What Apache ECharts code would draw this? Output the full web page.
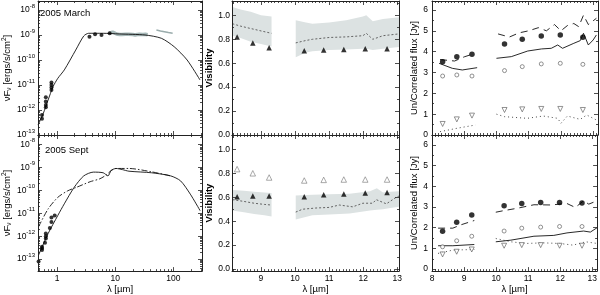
<!DOCTYPE html>
<html><head><meta charset="utf-8">
<script src="https://cdn.jsdelivr.net/npm/echarts@6/dist/echarts.min.js"></script>
<style>html,body{margin:0;padding:0;background:#fff}#c{width:600px;height:295px}</style>
</head><body><div id="c"></div>
<script>
// ---------------- DATA ----------------
// Panel 1: SED (wavelength in micron, nuFnu in erg/s/cm2)
const sedXLabels = [1, 10, 100];
const sedYLabels = [1e-13, 1e-12, 1e-11, 1e-10, 1e-9, 1e-8];
const marchModelX = [0.47, 0.58, 0.70, 0.85, 1.03, 1.33, 2.09, 2.87, 3.48, 6.2, 11.7, 32.5, 62, 103, 172, 286];
const marchModelY = [2.5e-13, 7.4e-13, 2.5e-12, 8.5e-12, 1.86e-11, 4.0e-11, 2.5e-10, 9.1e-10, 1.17e-9, 1.17e-9, 1.1e-9, 1.0e-9, 7.4e-10, 3.4e-10, 1.0e-10, 1.6e-11];
const marchPhotX = [0.55, 0.55, 0.64, 0.64, 0.64, 0.64, 0.80, 0.80, 0.80, 0.80, 3.6, 4.5, 5.8, 8.0];
const marchPhotY = [6.3e-13, 4.5e-13, 3.2e-12, 2.2e-12, 1.6e-12, 1.3e-12, 1.26e-11, 1.0e-11, 7.9e-12, 6.3e-12, 8.5e-10, 1.07e-9, 1.0e-9, 1.17e-9];
const marchSpecX = [8.0, 8.5, 9, 9.5, 10, 10.5, 11, 11.5, 12, 12.5, 13, 14, 15, 16, 17, 18, 20, 22, 24, 26, 28, 30, 33, 36];
const marchSpecY = [1.17e-9, 1.26e-9, 1.32e-9, 1.26e-9, 1.17e-9, 1.12e-9, 1.07e-9, 1.0e-9, 1.05e-9, 1.1e-9, 1.05e-9, 1.0e-9, 1.07e-9, 1.02e-9, 1.07e-9, 1.1e-9, 1.05e-9, 1.0e-9, 1.05e-9, 1.07e-9, 1.0e-9, 1.05e-9, 1.07e-9, 1.02e-9];
const marchFirX = [51, 60, 70, 82, 97];
const marchFirY = [1.58e-9, 1.45e-9, 1.35e-9, 1.25e-9, 1.17e-9];
const septModelX = [0.48, 0.70, 1.03, 1.33, 1.96, 2.87, 4.2, 6.2, 7.5, 8.5, 10.3, 13.3, 17.2, 42, 90, 133, 195, 288];
const septModelY = [1.5e-13, 1.3e-12, 8.1e-12, 2.6e-11, 1.35e-10, 4.3e-10, 6.3e-10, 5.9e-10, 4.3e-10, 7.4e-10, 9.1e-10, 8.1e-10, 6.9e-10, 5.9e-10, 4.3e-10, 2.6e-10, 6.9e-11, 1.3e-11];
const septAltX = [0.48, 0.70, 1.03, 1.51, 2.22, 3.7, 5.4, 7.0, 8.5, 10.3, 17.2, 42, 90];
const septAltY = [2.6e-12, 1.55e-11, 5.0e-11, 9.5e-11, 1.41e-10, 2.4e-10, 3.2e-10, 4.7e-10, 7.4e-10, 9.1e-10, 9.1e-10, 6.5e-10, 4.3e-10];
const septPhotX = [0.48, 0.55, 0.55, 0.55, 0.62, 0.64, 0.64, 0.64, 0.75, 0.80, 0.80, 0.91];
const septPhotY = [7.9e-14, 3.5e-13, 3.0e-13, 2.5e-13, 5.2e-13, 1.3e-12, 1.0e-12, 7.9e-13, 2.3e-12, 6.5e-12, 4.2e-12, 8.1e-12];

// Panel 2: Visibility
const visXLabels = [9, 10, 11, 12, 13];
const visYLabels = [0, 0.2, 0.4, 0.6, 0.8, 1.0];
const obsX = [8.30, 8.76, 9.24, 10.27, 10.84, 11.43, 12.06, 12.70];
const visTopObs = [0.82, 0.77, 0.73, 0.705, 0.71, 0.715, 0.72, 0.72];
const visBotObs = [0.605, 0.61, 0.61, 0.605, 0.62, 0.628, 0.635, 0.64];
const visBotOpen = [0.835, 0.80, 0.765, 0.74, 0.745, 0.748, 0.748, 0.748];
const visTopBand1X = [8.16, 8.4, 8.7, 9.0, 9.31];
const visTopBand1Hi = [1.07, 1.05, 1.03, 1.0, 0.99];
const visTopBand1Lo = [0.83, 0.81, 0.78, 0.76, 0.74];
const visTopMod1Y = [0.93, 0.91, 0.89, 0.87, 0.85];
const visTopBand2X = [10.02, 10.32, 10.51, 11.0, 11.5, 11.99, 12.09, 12.28, 12.58, 13.05];
const visTopBand2Hi = [0.96, 0.94, 0.93, 0.94, 0.96, 0.99, 1.0, 0.95, 0.97, 0.985];
const visTopBand2Lo = [0.65, 0.69, 0.70, 0.71, 0.715, 0.72, 0.72, 0.71, 0.72, 0.735];
const visTopMod2Y = [0.77, 0.79, 0.80, 0.815, 0.82, 0.83, 0.85, 0.80, 0.83, 0.845];
const visBotBand1X = [8.16, 8.5, 8.8, 9.1, 9.31];
const visBotBand1Hi = [0.66, 0.655, 0.645, 0.64, 0.635];
const visBotBand1Lo = [0.49, 0.475, 0.46, 0.45, 0.44];
const visBotMod1Y = [0.58, 0.565, 0.55, 0.54, 0.535];
const visBotBand2X = [10.02, 10.51, 11.0, 11.6, 12.2, 12.4, 12.58, 12.8, 13.05];
const visBotBand2Hi = [0.615, 0.62, 0.625, 0.63, 0.65, 0.675, 0.64, 0.645, 0.65];
const visBotBand2Lo = [0.415, 0.45, 0.455, 0.465, 0.49, 0.495, 0.5, 0.51, 0.52];
const visBotMod2X = [10.02, 10.22, 10.61, 11.0, 11.3, 11.69, 11.99, 12.28, 12.38, 12.68, 12.97, 13.05];
const visBotMod2Y = [0.476, 0.5, 0.51, 0.515, 0.535, 0.52, 0.55, 0.55, 0.58, 0.545, 0.60, 0.61];

// Panel 3: Un/Correlated flux (Jy)
const fluxXLabels = [8, 9, 10, 11, 12, 13];
const fluxYLabels = [0, 1, 2, 3, 4, 5, 6];
const fluxObsX = [8.33, 8.77, 9.24, 10.25, 10.80, 11.39, 11.98, 12.68];
const fluxTopTotal = [3.52, 3.76, 3.87, 4.37, 4.6, 4.75, 4.8, 4.69];
const fluxTopCorr = [2.83, 2.88, 2.83, 3.09, 3.28, 3.41, 3.44, 3.39];
const fluxTopUncorr = [0.53, 0.75, 0.93, 1.2, 1.23, 1.25, 1.25, 1.2];
const fluxTopDash1X = [8.25, 8.7, 9.0, 9.3];
const fluxTopDash1Y = [3.62, 3.55, 3.75, 3.9];
const fluxTopDash2X = [10.05, 10.4, 10.7, 11.0, 11.3, 11.55, 11.8, 12.0, 12.2, 12.4, 12.55, 12.7, 12.85, 13.1];
const fluxTopDash2Y = [4.85, 4.7, 4.9, 5.0, 5.15, 5.0, 5.3, 5.0, 5.25, 5.35, 5.2, 5.75, 5.3, 5.6];
const fluxTopSolid1X = [8.22, 8.63, 8.94, 9.4];
const fluxTopSolid1Y = [3.44, 3.2, 3.12, 3.23];
const fluxTopSolid2X = [10.0, 10.46, 10.97, 11.4, 11.7, 11.9, 12.05, 12.4, 12.6, 12.7, 12.85, 13.0, 13.1];
const fluxTopSolid2Y = [3.68, 3.76, 4.03, 4.13, 4.16, 4.32, 4.16, 4.4, 4.53, 4.88, 4.32, 4.56, 4.8];
const fluxTopDot1X = [8.25, 8.8, 9.35];
const fluxTopDot1Y = [0.16, 0.33, 0.48];
const fluxTopDot2X = [10.0, 10.25, 10.95, 11.45, 11.9, 12.0, 12.2, 12.6, 12.8, 13.1];
const fluxTopDot2Y = [1.0, 0.88, 0.8, 0.91, 0.8, 0.56, 0.91, 0.75, 0.96, 0.72];
const fluxBotTotal = [1.83, 2.27, 2.62, 3.06, 3.17, 3.22, 3.22, 3.19];
const fluxBotCorr = [1.08, 1.37, 1.59, 1.84, 1.98, 2.03, 2.06, 2.06];
const fluxBotUncorr = [0.71, 0.84, 0.95, 1.13, 1.16, 1.16, 1.13, 1.13];
const fluxBotDash1X = [8.19, 8.65, 8.9, 9.32];
const fluxBotDash1Y = [1.98, 1.98, 2.14, 2.35];
const fluxBotDash2X = [9.99, 10.25, 10.66, 11.18, 11.7, 12.21, 12.47, 12.73, 12.89, 13.15];
const fluxBotDash2Y = [2.75, 2.83, 2.94, 3.11, 3.1, 3.17, 2.98, 3.3, 3.14, 3.3];
const fluxBotSolid1X = [8.19, 8.65, 9.32];
const fluxBotSolid1Y = [1.13, 1.13, 1.19];
const fluxBotSolid2X = [9.99, 10.46, 11.18, 11.8, 12.21, 12.73, 12.94, 13.15];
const fluxBotSolid2Y = [1.32, 1.4, 1.59, 1.63, 1.75, 1.84, 1.79, 2.0];
const fluxBotDot1X = [8.19, 8.65, 9.32];
const fluxBotDot1Y = [0.76, 0.92, 0.95];
const fluxBotDot2X = [9.99, 10.46, 10.95, 11.45, 11.99, 12.4, 12.8, 13.15];
const fluxBotDot2Y = [1.48, 1.32, 1.24, 1.27, 1.24, 1.16, 1.32, 1.24];

// ---------------- HELPERS ----------------
const FONT = 'Liberation Sans';
const TXT = '#000';
const AXC = '#222';
const zip = (xs, ys) => xs.map((x, i) => [x, ys[i]]);
const rng = (a, b, s) => { const r = []; for (let v = a; v <= b + 1e-9; v += s) r.push(Math.round(v * 1000) / 1000); return r; };
const logMinor = [];
for (let d = -14; d <= 2; d++) for (let k = 2; k <= 9; k++) logMinor.push(+(k * Math.pow(10, d)).toPrecision(3));
const minorOf = (a, b, s, skip) => rng(a, b, s).filter(v => Math.abs(v / skip - Math.round(v / skip)) > 1e-6);

const grids = [
  {left: 33, top: 1, width: 169, height: 134},
  {left: 33, top: 135, width: 169, height: 138},
  {left: 232, top: 1, width: 167, height: 134},
  {left: 232, top: 135, width: 167, height: 138},
  {left: 432, top: 1, width: 166, height: 134},
  {left: 432, top: 135, width: 166, height: 138}
];

const supRich = {
  b: {fontSize: 8.5, fontFamily: FONT, color: TXT, lineHeight: 14, verticalAlign: 'middle'},
  s: {fontSize: 6, fontFamily: FONT, color: TXT, verticalAlign: 'top'}
};
const sedX = {type: 'log', min: 0.47, max: 310, major: sedXLabels, minor: logMinor, fmt: v => String(Math.round(v)), margin: 3};
const sedYTop = {type: 'log', min: 1e-13, max: 2.29e-8, major: sedYLabels, minor: logMinor, fmt: v => '{b|10}{s|' + Math.round(Math.log10(v)) + '}', rich: supRich, margin: 3};
const sedYBot = Object.assign({}, sedYTop, {min: 3.0e-14, max: 2.63e-8});
const visX = {type: 'value', min: 8.15, max: 13.05, major: visXLabels, minor: minorOf(8.2, 13.0, 0.1, 1), fmt: v => String(v), margin: 3};
const visYTop = {type: 'value', min: 0, max: 1.12, major: visYLabels, minor: minorOf(0.1, 1.1, 0.1, 0.2), fmt: v => v.toFixed(1), margin: 2};
const visYBot = Object.assign({}, visYTop, {min: -0.017, max: 1.12});
const flX = {type: 'value', min: 8, max: 13.15, major: fluxXLabels, minor: minorOf(8.1, 13.1, 0.1, 1), fmt: v => String(v), margin: 3};
const flYTop = {type: 'value', min: 0, max: 6.43, major: fluxYLabels, minor: minorOf(0.5, 6.0, 0.5, 1), fmt: v => String(v), margin: 4};
const flYBot = Object.assign({}, flYTop, {min: -0.095, max: 6.48});

const xAxes = [], yAxes = [];
function ax(grid, pos, cfg, major, labelOn, extra) {
  const a = {
    gridIndex: grid, type: cfg.type, position: pos, min: cfg.min, max: cfg.max,
    axisLine: {show: major, onZero: false, lineStyle: {color: AXC, width: 1}},
    splitLine: {show: false}, minorTick: {show: false},
    axisTick: {show: true, inside: true, length: major ? 4 : 2, customValues: major ? cfg.major : cfg.minor, lineStyle: {color: AXC, width: 0.8}},
    axisLabel: {show: labelOn, customValues: cfg.major, margin: cfg.margin, formatter: cfg.fmt, fontFamily: FONT, fontSize: 8.5, color: TXT, rich: cfg.rich || {}},
    z: 10
  };
  if (cfg.type === 'log') a.logBase = 10;
  return Object.assign(a, extra || {});
}
const nameStyle = {fontFamily: FONT, fontSize: 9.5, color: TXT};
const panels = [
  {x: sedX, y: sedYTop, xl: false, yName: 'νF{sub|ν} [ergs/s/cm{sup|2}]', yGap: 20},
  {x: sedX, y: sedYBot, xl: true, yName: 'νF{sub|ν} [ergs/s/cm{sup|2}]', yGap: 20},
  {x: visX, y: visYTop, xl: false, yName: 'Visibility', yGap: 14, bold: true},
  {x: visX, y: visYBot, xl: true, yName: 'Visibility', yGap: 14, bold: true},
  {x: flX, y: flYTop, xl: false, yName: 'Un/Correlated flux [Jy]', yGap: 13},
  {x: flX, y: flYBot, xl: true, yName: 'Un/Correlated flux [Jy]', yGap: 13}
];
const nameRich = {
  sub: {fontFamily: FONT, fontSize: 6.5, color: TXT, verticalAlign: 'bottom', lineHeight: 12},
  sup: {fontFamily: FONT, fontSize: 6.5, color: TXT, verticalAlign: 'top'}
};
panels.forEach((p, g) => {
  const xn = p.xl ? {name: 'λ [µm]', nameLocation: 'middle', nameGap: 11, nameTextStyle: nameStyle} : {};
  xAxes.push(ax(g, 'bottom', p.x, true, p.xl, xn));
  xAxes.push(ax(g, 'bottom', p.x, false, false));
  xAxes.push(ax(g, 'top', p.x, true, false));
  xAxes.push(ax(g, 'top', p.x, false, false));
  const yn = {name: p.yName, nameLocation: 'middle', nameGap: p.yGap,
    nameTextStyle: Object.assign({}, nameStyle, {fontWeight: p.bold ? 'bold' : 'normal', rich: nameRich})};
  yAxes.push(ax(g, 'left', p.y, true, true, yn));
  yAxes.push(ax(g, 'left', p.y, false, false));
  yAxes.push(ax(g, 'right', p.y, true, false));
  yAxes.push(ax(g, 'right', p.y, false, false));
});

const series = [];
function line(g, xs, ys, color, width, type, extra) {
  series.push(Object.assign({
    type: 'line', xAxisIndex: g * 4, yAxisIndex: g * 4, data: zip(xs, ys),
    showSymbol: false, symbol: 'none', silent: true, animation: false, z: 5,
    lineStyle: {color: color, width: width, type: type}
  }, extra || {}));
}
function pts(g, xs, ys, symbol, size, fill, border, extra) {
  series.push(Object.assign({
    type: 'scatter', xAxisIndex: g * 4, yAxisIndex: g * 4, data: zip(xs, ys),
    symbol: symbol, symbolSize: size, silent: true, animation: false, z: 8,
    itemStyle: {color: fill, borderColor: border, borderWidth: border ? 0.8 : 0}
  }, extra || {}));
}
function band(g, xs, lo, hi) {
  series.push({
    type: 'custom', xAxisIndex: g * 4, yAxisIndex: g * 4, data: [[xs[0], lo[0]]], silent: true, animation: false, z: 2,
    renderItem: (params, api) => {
      const poly = xs.map((x, i) => api.coord([x, hi[i]])).concat(xs.slice().reverse().map((x, i) => api.coord([x, lo[xs.length - 1 - i]])));
      return {type: 'polygon', shape: {points: poly}, style: {fill: '#dce2e2', stroke: null}};
    }
  });
}

// Panel 1 top
line(0, marchSpecX, marchSpecY, '#a6b8b8', 3.5, 'solid');
line(0, marchFirX, marchFirY, '#9aacac', 1.5, 'solid');
line(0, marchModelX, marchModelY, '#111', 0.9, 'solid', {smooth: 0.25});
pts(0, marchPhotX, marchPhotY, 'circle', 4, '#000');
// Panel 1 bottom
line(1, septAltX, septAltY, '#111', 0.9, [6, 2, 1.5, 2], {smooth: 0.25});
line(1, septModelX, septModelY, '#111', 0.9, 'solid', {smooth: 0.25});
pts(1, septPhotX, septPhotY, 'circle', 4, '#000');
// Panel 2
band(2, visTopBand1X, visTopBand1Lo, visTopBand1Hi);
band(2, visTopBand2X, visTopBand2Lo, visTopBand2Hi);
line(2, visTopBand1X, visTopMod1Y, '#555', 0.9, [2, 2]);
line(2, visTopBand2X, visTopMod2Y, '#555', 0.9, [2, 2]);
pts(2, obsX, visTopObs, 'triangle', 5.5, '#000');
band(3, visBotBand1X, visBotBand1Lo, visBotBand1Hi);
band(3, visBotBand2X, visBotBand2Lo, visBotBand2Hi);
line(3, visBotBand1X, visBotMod1Y, '#555', 0.9, [2, 2]);
line(3, visBotMod2X, visBotMod2Y, '#555', 0.9, [2, 2]);
pts(3, obsX, visBotObs, 'triangle', 5.5, '#000');
pts(3, obsX, visBotOpen, 'triangle', 5.5, '#fff', '#777');
// Panel 3 top
line(4, fluxTopDash1X, fluxTopDash1Y, '#111', 0.9, [7, 5]);
line(4, fluxTopDash2X, fluxTopDash2Y, '#111', 0.9, [7, 5]);
line(4, fluxTopSolid1X, fluxTopSolid1Y, '#111', 0.9, 'solid');
line(4, fluxTopSolid2X, fluxTopSolid2Y, '#111', 0.9, 'solid');
line(4, fluxTopDot1X, fluxTopDot1Y, '#333', 0.9, [1, 3]);
line(4, fluxTopDot2X, fluxTopDot2Y, '#333', 0.9, [1, 3]);
pts(4, fluxObsX, fluxTopTotal, 'circle', 5.5, '#000');
pts(4, fluxObsX, fluxTopCorr, 'circle', 4, '#fff', '#555');
pts(4, fluxObsX, fluxTopUncorr, 'triangle', 5, '#fff', '#555', {symbolRotate: 180});
// Panel 3 bottom
line(5, fluxBotDash1X, fluxBotDash1Y, '#111', 0.9, [7, 5]);
line(5, fluxBotDash2X, fluxBotDash2Y, '#111', 0.9, [7, 5]);
line(5, fluxBotSolid1X, fluxBotSolid1Y, '#111', 0.9, 'solid');
line(5, fluxBotSolid2X, fluxBotSolid2Y, '#111', 0.9, 'solid');
line(5, fluxBotDot1X, fluxBotDot1Y, '#333', 0.9, [1, 3]);
line(5, fluxBotDot2X, fluxBotDot2Y, '#333', 0.9, [1, 3]);
pts(5, fluxObsX, fluxBotTotal, 'circle', 5.5, '#000');
pts(5, fluxObsX, fluxBotCorr, 'circle', 4, '#fff', '#555');
pts(5, fluxObsX, fluxBotUncorr, 'triangle', 5, '#fff', '#555', {symbolRotate: 180});

const chart = echarts.init(document.getElementById('c'), null, {renderer: 'canvas'});
chart.setOption({
  animation: false,
  backgroundColor: '#fff',
  textStyle: {fontFamily: FONT},
  grid: grids,
  xAxis: xAxes,
  yAxis: yAxes,
  series: series,
  graphic: [
    {type: 'text', left: 40, top: 8, style: {text: '2005 March', font: '9.5px "Liberation Sans"', fill: '#000'}},
    {type: 'text', left: 45, top: 145, style: {text: '2005 Sept', font: '9.5px "Liberation Sans"', fill: '#000'}}
  ]
});
</script>
</body></html>
